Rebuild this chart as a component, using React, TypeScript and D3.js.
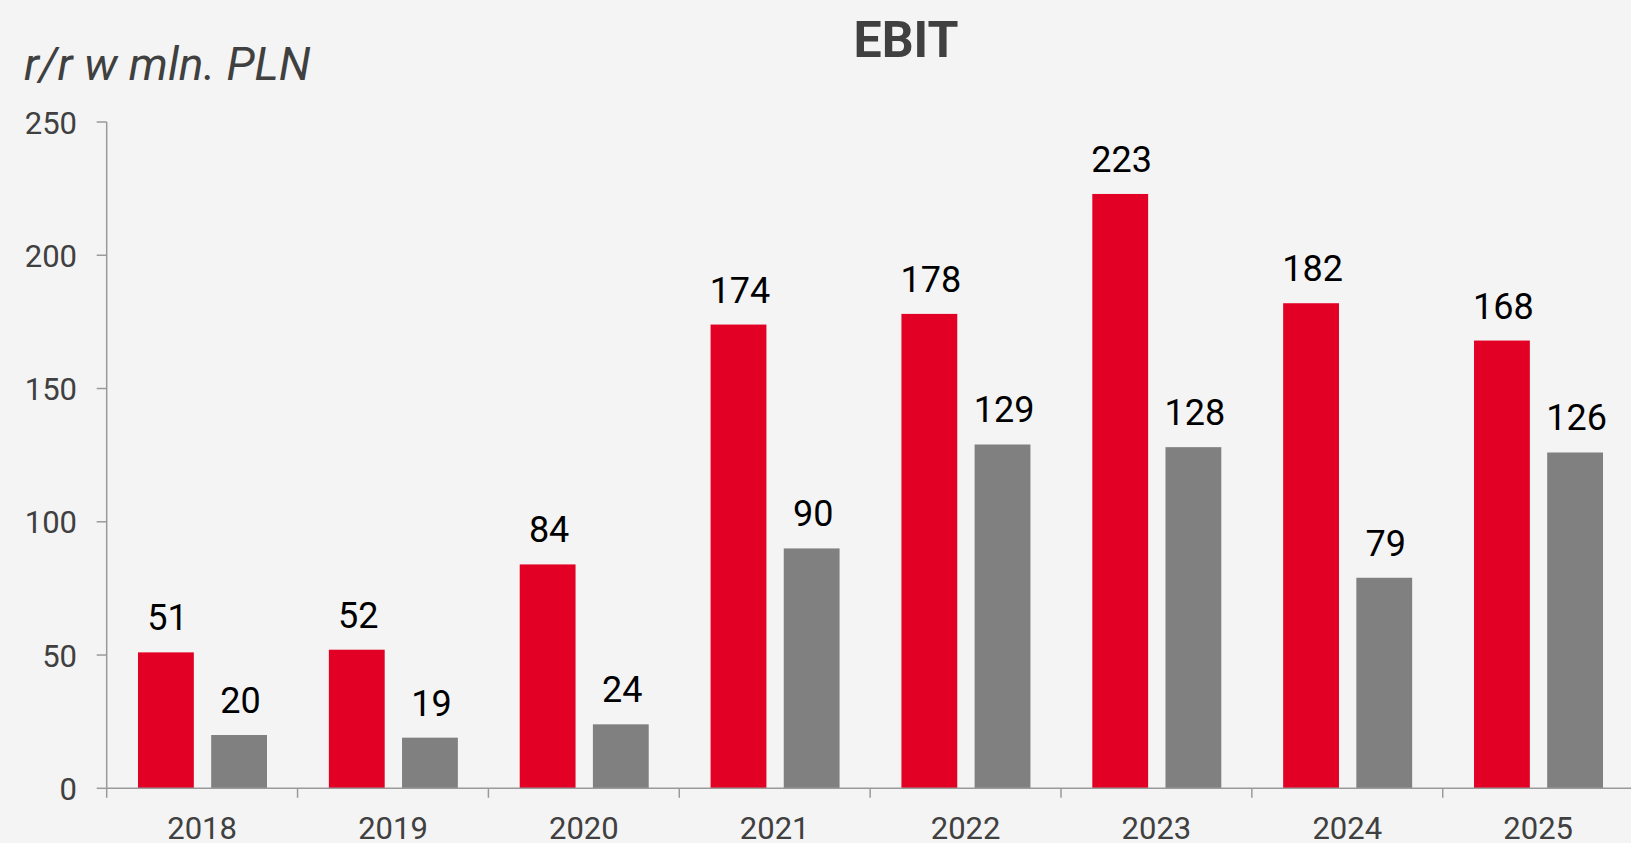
import React from "react";
import * as d3 from "d3";

const years = ["2018", "2019", "2020", "2021", "2022", "2023", "2024", "2025"];
const seriesA = [51, 52, 84, 174, 178, 223, 182, 168];
const seriesB = [20, 19, 24, 90, 129, 128, 79, 126];
const yTicks = [0, 50, 100, 150, 200, 250];
const title = "EBIT";
const unitLabel = "r/r w mln. PLN";

const W = 1631;
const H = 843;
const left = 106.7;
const step = 190.86;
const y0 = 788.3;
const yTop = 122;

export default function App() {
  const x = d3
    .scaleBand<string>()
    .domain(years)
    .range([left, left + step * years.length])
    .paddingInner(0)
    .paddingOuter(0);
  const xs = d3
    .scaleBand<string>()
    .domain(["a", "b"])
    .range([31.3, 160.3])
    .paddingInner(0.237)
    .paddingOuter(0);
  const y = d3.scaleLinear().domain([0, 250]).range([y0, yTop]);
  const font = "Roboto, 'Noto Sans', sans-serif";
  const axisColor = "#9a9a9a";
  const textColor = "#404040";

  const series = [
    { key: "a", values: seriesA, color: "#e30025" },
    { key: "b", values: seriesB, color: "#808080" },
  ];

  return (
    <svg
      width={W}
      height={H}
      style={{ position: "absolute", left: 0, top: 0 }}
      fontFamily={font}
    >
      <rect x={0} y={0} width={W} height={H} fill="#f4f4f4" />
      <text x={906} y={57} textAnchor="middle" fontSize={50} fontWeight="bold" fill={textColor}>
        {title}
      </text>
      <text x={24} y={80} fontSize={46} fontStyle="italic" fill={textColor}>
        {unitLabel}
      </text>
      {series.map((s) =>
        years.map((yr, i) => {
          const bx = (x(yr) as number) + (xs(s.key) as number);
          const bw = xs.bandwidth();
          const v = s.values[i];
          return (
            <g key={s.key + yr}>
              <rect x={bx} y={y(v)} width={bw} height={y0 - y(v)} fill={s.color} />
              <text
                x={bx + bw / 2 + 1.5}
                y={y(v) - 22}
                textAnchor="middle"
                fontSize={36}
                fill="#000"
              >
                {v}
              </text>
            </g>
          );
        })
      )}
      {/* y axis */}
      <line x1={left} x2={left} y1={y(250)} y2={y0} stroke={axisColor} strokeWidth={1.5} />
      {yTicks.map((t) => (
        <g key={t}>
          <line x1={left - 10} x2={left} y1={y(t)} y2={y(t)} stroke={axisColor} strokeWidth={1.5} />
          <text x={77} y={y(t) + 11.5} textAnchor="end" fontSize={31} fill={textColor}>
            {t}
          </text>
        </g>
      ))}
      {/* x axis */}
      <line x1={left} x2={W} y1={y0} y2={y0} stroke={axisColor} strokeWidth={1.5} />
      {years.map((yr) => (
        <g key={yr}>
          <line
            x1={x(yr) as number}
            x2={x(yr) as number}
            y1={y0}
            y2={y0 + 9.5}
            stroke={axisColor}
            strokeWidth={1.5}
          />
          <text
            x={(x(yr) as number) + x.bandwidth() / 2}
            y={839}
            textAnchor="middle"
            fontSize={31}
            fill={textColor}
          >
            {yr}
          </text>
        </g>
      ))}
    </svg>
  );
}
